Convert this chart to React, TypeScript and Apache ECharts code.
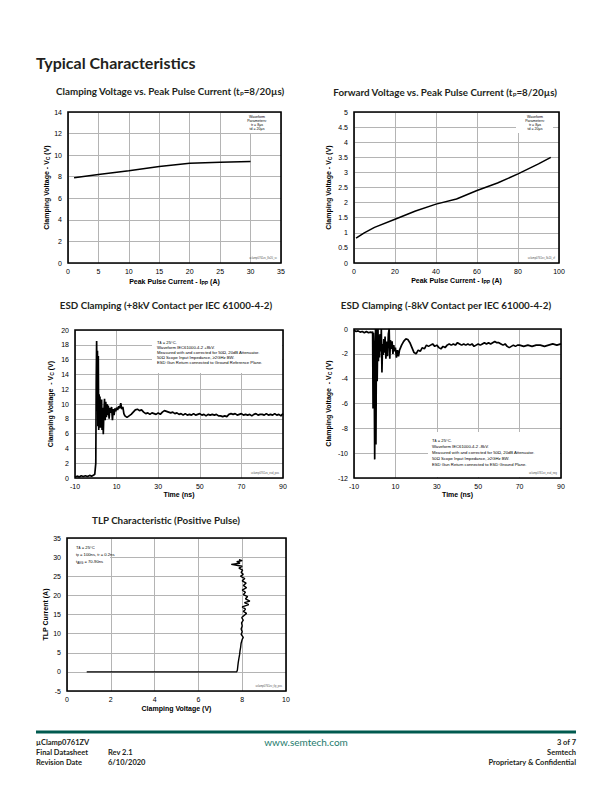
import React, { useEffect, useRef } from 'react';
import * as echarts from 'echarts';

// ---------- Data ----------
const clampCurrent = [1, 5, 10, 15, 20, 25, 30];
const clampVoltage = [7.9, 8.2, 8.55, 8.95, 9.25, 9.35, 9.4];

const fwdCurrent = [1, 5, 10, 20, 30, 40, 50, 60, 70, 80, 90, 96];
const fwdVoltage = [0.82, 1.0, 1.18, 1.45, 1.72, 1.95, 2.12, 2.4, 2.65, 2.95, 3.28, 3.5];

const esdPosTime = [
  -10, -9, -8, -7, -6, -5, -4, -3, -2, -1, -0.5, 0, 0.2, 0.4, 0.6, 0.8, 1.0, 1.2, 1.4, 1.6, 1.8, 2.0,
  2.2, 2.4, 2.6, 2.8, 3.0, 3.3, 3.6, 3.9, 4.2, 4.5, 4.8, 5.1, 5.4, 5.7, 6.0, 6.4, 6.8, 7.2, 7.6, 8.0,
  8.4, 8.8, 9.2, 9.6, 10, 10.5, 11, 11.5, 12, 12.5, 13, 13.5, 14, 15, 16, 17, 18, 19, 20, 21, 22, 23,
  24, 25, 26, 27, 28, 29, 30, 31, 32, 33, 34, 35, 36, 37, 38, 39, 40, 41, 42, 43, 44, 45, 46, 47, 48,
  49, 50, 51, 52, 53, 54, 55, 56, 57, 58, 59, 60, 61, 62, 63, 64, 65, 66, 67, 68, 69, 70, 71, 72, 73,
  74, 75, 76, 77, 78, 79, 80, 81, 82, 83, 84, 85, 86, 87, 88, 89, 90,
];
const esdPosVolt = [
  0.1, 0.25, 0.15, 0.3, 0.2, 0.3, 0.2, 0.35, 0.25, 0.4, 0.5, 2, 13, 18.5, 12, 17.2, 7, 16.5, 6.5, 11.3, 7.5, 11,
  6.8, 10.2, 7.2, 10.6, 6.5, 9.5, 5.9, 9.0, 10.7, 7.8, 10.3, 8.2, 10.0, 8.5, 9.8, 8.0, 9.5, 8.8, 9.6, 7.8,
  9.3, 8.5, 9.4, 9.0, 9.5, 9.2, 9.7, 9.4, 10.1, 9.3, 9.6, 8.7, 8.4, 8.2, 8.4, 8.6, 8.9, 9.2, 9.3, 9.1, 9.2, 8.9,
  8.7, 8.8, 8.6, 8.8, 8.7, 8.6, 8.8, 8.6, 8.9, 9.1, 9.0, 8.9, 8.8, 8.9, 8.7, 8.8, 8.6, 8.7, 8.5, 8.7, 8.5, 8.6, 8.5, 8.7, 8.5,
  8.6, 8.7, 8.5, 8.6, 8.4, 8.6, 8.5, 8.6, 8.5, 8.6, 8.4, 8.4, 8.3, 8.4, 8.3, 8.6, 8.7, 8.6, 8.7, 8.5, 8.6, 8.7, 8.5, 8.6, 8.5,
  8.6, 8.4, 8.6, 8.7, 8.5, 8.6, 8.6, 8.5, 8.7, 8.5, 8.6, 8.5, 8.7, 8.5, 8.6, 8.4, 8.7,
];

const esdNegTime = [
  -10, -9, -8, -7, -6, -5, -4, -3, -2, -1.2, -1.0, -0.8, -0.6, -0.3, 0, 0.2, 0.4, 0.6, 0.8, 1.0, 1.2, 1.4,
  1.6, 1.8, 2.0, 2.3, 2.6, 2.9, 3.2, 3.5, 3.8, 4.1, 4.4, 4.7, 5.0, 5.4, 5.8, 6.2, 6.6, 7.0, 7.3, 7.6, 8.0,
  8.4, 8.8, 9.2, 9.6, 10, 10.5, 11, 11.5, 12, 12.5, 13, 14, 15, 16, 17, 18, 19, 20, 21, 22, 23, 24, 25, 26,
  27, 28, 29, 30, 31, 32, 33, 34, 35, 36, 37, 38, 39, 40, 41, 42, 43, 44, 45, 46, 47, 48, 49, 50, 51, 52,
  53, 54, 55, 56, 57, 58, 59, 60, 61, 62, 63, 64, 65, 66, 67, 68, 69, 70, 72, 74, 76, 78, 80, 82, 84, 86, 88, 90,
];
const esdNegVolt = [
  -0.1, -0.2, -0.15, -0.25, -0.2, -0.3, -0.2, -0.3, -0.25, -0.3, -0.2, -6.4, -0.3, -2, -10.5, -4, 0, -9.3, -2.5, 0, -4.2, -1.5,
  0, -2.6, -0.5, -2.3, -0.4, -1.8, 0, -3.5, -1.2, -2.1, -0.8, -1.9, -0.6, -2.4, -1.0, -2.2, -0.4, 0, -2.4, -0.9, -1.6,
  -1.0, -2.0, -1.3, -1.8, -1.5, -2.3, -1.7, -2.2, -1.7, -1.5, -1.3, -1.0, -0.8, -0.85, -1.1, -1.5, -1.9, -2.0, -1.7, -1.8, -1.5, -1.6, -1.3, -1.4,
  -1.3, -1.2, -1.4, -1.3, -1.5, -1.6, -1.4, -1.5, -1.3, -1.2, -1.3, -1.2, -1.3, -1.1, -1.2, -1.3, -1.2, -1.3, -1.2, -1.3, -1.2, -1.4, -1.3, -1.2, -1.3, -1.2,
  -1.1, -1.2, -1.1, -1.2, -1.1, -1.0, -1.1, -1.1, -1.2, -1.3, -1.2, -1.4, -1.5, -1.4, -1.3, -1.4, -1.3, -1.3, -1.4, -1.3, -1.4, -1.3, -1.3, -1.4, -1.3, -1.2, -1.3, -1.2,
];

const tlpVoltage = [
  0.9, 7.75, 7.78, 7.8, 7.82, 7.85, 7.88, 7.9, 7.93, 7.95, 8.0, 8.05, 7.95, 8.0, 7.95, 8.0, 7.97, 8.05, 7.98, 8.1,
  8.2, 8.05, 8.15, 8.0, 8.3, 8.1, 8.35, 8.15, 8.25, 8.05, 8.15, 8.0, 8.2, 8.05, 8.18, 8.0, 8.12, 7.92, 8.05, 7.95,
  8.02, 7.85, 8.0, 7.5, 7.9, 7.75, 8.0, 7.85,
];
const tlpCurrent = [
  0, 0, 0.5, 1.5, 2.5, 3.5, 4.5, 5.5, 6.5, 7.5, 8.5, 9.0, 9.8, 10.5, 11.2, 12, 12.8, 13.5, 14.2, 14.8,
  15.3, 15.8, 16.4, 17, 17.6, 18.1, 18.5, 19.1, 19.7, 20.2, 20.8, 21.4, 22, 22.6, 23.2, 23.8, 24.4, 25, 25.5, 26,
  26.6, 27.1, 27.6, 28.1, 28.4, 28.8, 29.1, 29.3,
];

// ---------- Styling ----------
const AX_FONT = 'Liberation Sans';
const T_FONT = 'Lato';
const INK = '#231f20';

type G = { left: number; top: number; width: number; height: number };
const grids: G[] = [
  { left: 68, top: 112, width: 213, height: 151 },
  { left: 354, top: 112, width: 205, height: 151 },
  { left: 75, top: 330, width: 208, height: 148 },
  { left: 354, top: 329, width: 207, height: 149 },
  { left: 67, top: 538, width: 219, height: 153 },
];

const pair = (xs: number[], ys: number[]) => xs.map((x, i) => [x, ys[i]]);

const subRich = {
  sub: { fontSize: 5, fontFamily: AX_FONT, fontWeight: 'bold', verticalAlign: 'bottom', lineHeight: 5, color: '#000' },
};

function xAxis(i: number, min: number, max: number, interval: number, name: string, nameGap: number) {
  return {
    type: 'value', gridIndex: i, min, max, interval, name, nameLocation: 'middle', nameGap,
    nameTextStyle: { fontSize: 7, fontFamily: AX_FONT, fontWeight: 'bold', color: '#000', rich: subRich },
    axisLine: { show: false }, axisTick: { show: false },
    axisLabel: { fontSize: 7, fontFamily: AX_FONT, color: '#000', margin: 5, showMinLabel: true, showMaxLabel: true },
    splitLine: { show: true, lineStyle: { color: '#b4b4b4', width: 1 } },
  };
}
function yAxis(i: number, min: number, max: number, interval: number, name: string, nameGap: number) {
  return {
    type: 'value', gridIndex: i, min, max, interval, name, nameLocation: 'middle', nameGap,
    nameTextStyle: { fontSize: 7, fontFamily: AX_FONT, fontWeight: 'bold', color: '#000', rich: subRich },
    axisLine: { show: false }, axisTick: { show: false },
    axisLabel: { fontSize: 7, fontFamily: AX_FONT, color: '#000', margin: 6, showMinLabel: true, showMaxLabel: true },
    splitLine: { show: true, lineStyle: { color: '#b4b4b4', width: 1 } },
  };
}

function line(i: number, data: number[][], width = 1.4) {
  return {
    type: 'line', xAxisIndex: i, yAxisIndex: i, data, showSymbol: false, symbol: 'none',
    lineStyle: { color: '#000', width }, smooth: false, z: 3,
  };
}

function txt(x: number, y: number, text: string, o: any = {}) {
  return {
    type: 'text', x, y, z: 20,
    style: {
      text, fill: o.fill || INK, fontSize: o.size || 8, fontFamily: o.family || T_FONT,
      fontWeight: o.weight || 'normal', align: o.align || 'left', verticalAlign: 'middle', rich: o.rich,
    },
  };
}

const titleRich = {
  sub: { fontSize: 6, fontFamily: T_FONT, fontWeight: 'bold', verticalAlign: 'bottom', lineHeight: 6, fill: INK, color: INK },
};
const noteRich = {
  sub: { fontSize: 3, fontFamily: AX_FONT, verticalAlign: 'bottom', lineHeight: 3, color: '#000' },
};

function noteBox(x: number, y: number, w: number, h: number, lines: string[], tx: number, ty: number, step: number, align = 'left', size = 4.2) {
  const els: any[] = [{ type: 'rect', shape: { x, y, width: w, height: h }, style: { fill: '#fff' }, z: 5 }];
  lines.forEach((l, k) => {
    els.push({
      type: 'text', x: tx, y: ty + k * step, z: 6,
      style: { text: l, fill: '#000', fontSize: size, fontFamily: AX_FONT, align, verticalAlign: 'middle', rich: noteRich },
    });
  });
  return els;
}

function borders() {
  return grids.map((g) => ({
    type: 'rect', z: 10,
    shape: { x: g.left, y: g.top, width: g.width, height: g.height },
    style: { fill: 'none', stroke: '#000', lineWidth: 1.6 },
  }));
}

function tag(i: number, text: string) {
  const g = grids[i];
  return {
    type: 'text', x: g.left + g.width - 4, y: g.top + g.height - 5, z: 6,
    style: { text, fill: '#555', fontSize: 2.6, fontFamily: AX_FONT, align: 'right', verticalAlign: 'middle' },
  };
}

export default function App() {
  const ref = useRef<HTMLDivElement>(null);
  useEffect(() => {
    if (!ref.current) return;
    const chart = echarts.init(ref.current, undefined, { renderer: 'svg' });
    const option: any = {
      animation: false,
      backgroundColor: '#fff',
      grid: grids.map((g) => ({ ...g, show: false, containLabel: false })),
      xAxis: [
        xAxis(0, 0, 35, 5, 'Peak Pulse Current - I{sub|PP} (A)', 15),
        xAxis(1, 0, 100, 20, 'Peak Pulse Current - I{sub|PP} (A)', 14),
        xAxis(2, -10, 90, 20, 'Time (ns)', 10),
        xAxis(3, -10, 90, 20, 'Time (ns)', 10),
        xAxis(4, 0, 10, 2, 'Clamping Voltage (V)', 14),
      ],
      yAxis: [
        yAxis(0, 0, 14, 2, 'Clamping Voltage - V{sub|C} (V)', 14),
        yAxis(1, 0, 5, 0.5, 'Clamping Voltage - V{sub|C} (V)', 22),
        yAxis(2, 0, 20, 2, 'Clamping Voltage  - V{sub|C} (V)', 21),
        yAxis(3, -12, 0, 2, 'Clamping Voltage  - V{sub|C} (V)', 22),
        yAxis(4, -5, 35, 5, 'TLP Current (A)', 17),
      ],
      series: [
        line(0, pair(clampCurrent, clampVoltage), 1.5),
        line(1, pair(fwdCurrent, fwdVoltage), 1.5),
        line(2, pair(esdPosTime, esdPosVolt), 1.7),
        line(3, pair(esdNegTime, esdNegVolt), 1.7),
        line(4, pair(tlpVoltage, tlpCurrent), 1.4),
      ],
      graphic: {
        elements: [
          txt(36, 62, 'Typical Characteristics', { size: 16, weight: 'bold' }),
          txt(170, 91, 'Clamping Voltage vs. Peak Pulse Current (t{sub|P}=8/20µs)', { size: 9.8, weight: 'bold', align: 'center', rich: titleRich }),
          txt(445, 92, 'Forward Voltage vs. Peak Pulse Current (t{sub|P}=8/20µs)', { size: 9.8, weight: 'bold', align: 'center', rich: titleRich }),
          txt(166, 305, 'ESD Clamping (+8kV Contact per IEC 61000-4-2)', { size: 9.8, weight: 'bold', align: 'center' }),
          txt(446, 305, 'ESD Clamping (-8kV Contact per IEC 61000-4-2)', { size: 9.8, weight: 'bold', align: 'center' }),
          txt(166, 520, 'TLP Characteristic (Positive Pulse)', { size: 9.8, weight: 'bold', align: 'center' }),

          ...noteBox(238, 113, 37, 20, ['Waveform', 'Parameters:', 'tr = 8µs', 'td = 20µs'], 257, 116.5, 4.3, 'center', 3.6),
          ...noteBox(516, 113, 37, 20, ['Waveform', 'Parameters:', 'tr = 8µs', 'td = 20µs'], 535, 116.5, 4.3, 'center', 3.6),
          ...noteBox(152, 331, 130, 42, [
            'T{sub|A} = 25°C.',
            'Waveform IEC61000-4-2 +8kV.',
            'Measured with and corrected for 50Ω, 20dB Attenuator.',
            '50Ω Scope Input Impedance, ≥2GHz BW.',
            'ESD Gun Return connected to Ground Reference Plane.',
          ], 157, 342, 5.1),
          ...noteBox(428, 432, 132, 45, [
            'T{sub|A} = 25°C.',
            'Waveform IEC61000-4-2 -8kV.',
            'Measured with and corrected for 50Ω, 20dB Attenuator.',
            '50Ω Scope Input Impedance, ≥2GHz BW.',
            'ESD Gun Return connected to ESD Ground Plane.',
          ], 432, 440.5, 6.1),
          ...noteBox(68, 539, 42, 32, [
            'T{sub|A} = 25°C',
            't{sub|p} = 100ns, t{sub|r} = 0.2ns',
            't{sub|AVG} = 70-90ns',
          ], 76, 547, 7.4, 'left', 4.2),

          tag(0, 'uclamp0761zv_8x20_vc'),
          tag(1, 'uclamp0761zv_8x20_vf'),
          tag(2, 'uclamp0761zv_esd_pos'),
          tag(3, 'uclamp0761zv_esd_neg'),
          tag(4, 'uclamp0761zv_tlp_pos'),
          ...borders(),

          { type: 'line', z: 20, shape: { x1: 36, y1: 732, x2: 576, y2: 732 }, style: { stroke: '#005a4f', lineWidth: 3 } },
          txt(36, 742, 'µClamp0761ZV', { size: 7.5, weight: 'bold' }),
          txt(36, 752, 'Final Datasheet', { size: 7.5, weight: 'bold' }),
          txt(36, 762, 'Revision Date', { size: 7.5, weight: 'bold' }),
          txt(108, 752, 'Rev 2.1', { size: 7.5, weight: 'bold' }),
          txt(108, 762, '6/10/2020', { size: 7.5, weight: 'bold' }),
          txt(306, 742, 'www.semtech.com', { size: 10, align: 'center', fill: '#1b7a6c' }),
          txt(576, 742, '3 of 7', { size: 7.5, weight: 'bold', align: 'right' }),
          txt(576, 752, 'Semtech', { size: 7.5, weight: 'bold', align: 'right' }),
          txt(576, 762, 'Proprietary & Confidential', { size: 7.5, weight: 'bold', align: 'right' }),
        ],
      },
    };
    chart.setOption(option);
    return () => chart.dispose();
  }, []);
  return (
    <div
      ref={ref}
      style={{ position: 'absolute', left: 0, top: 0, width: 612, height: 792, background: '#fff' }}
    />
  );
}
